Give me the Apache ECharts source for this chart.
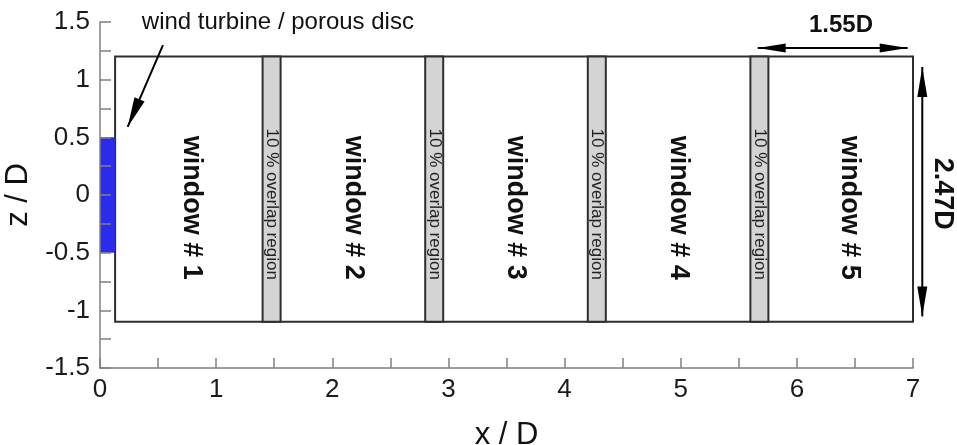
<!DOCTYPE html>
<html><head><meta charset="utf-8">
<script src="https://cdn.jsdelivr.net/npm/echarts@6/dist/echarts.min.js"></script>
<style>html,body{margin:0;padding:0;background:#fff}#c{width:957px;height:445px}</style>
</head><body><div id="c"></div>
<script>
// ---- data ----
const xRange = [0, 7];
const zRange = [-1.5, 1.5];
const domainBox = [0.13, 7.0, -1.1, 1.2];      // x0, x1, z0, z1
const discBox = [0, 0.13, -0.5, 0.5];          // wind turbine / porous disc
const overlapStart = [1.40, 2.80, 4.20, 5.60];
const overlapEnd = [1.555, 2.955, 4.355, 5.755];
const windowNames = ['window # 1', 'window # 2', 'window # 3', 'window # 4', 'window # 5'];
const overlapName = '10 % overlap region';
const widthLabel = '1.55D';
const heightLabel = '2.47D';
const discLabel = 'wind turbine / porous disc';

// ---- layout (label anchors, data coords) ----
const windowLabelX = [0.79, 2.18, 3.58, 4.98, 6.45];
const windowLabelZ = -0.11;
const overlapLabelZ = -0.08;

const FONT = '"Liberation Sans", Arial, Helvetica, sans-serif';
const chart = echarts.init(document.getElementById('c'), null, {renderer: 'canvas'});

function rectFromBox(api, b) {
  const p0 = api.coord([b[0], b[3]]);
  const p1 = api.coord([b[1], b[2]]);
  return {x: p0[0], y: p0[1], width: p1[0] - p0[0], height: p1[1] - p0[1]};
}

const items = [];
items.push({kind: 'domain', box: domainBox});
overlapStart.forEach((s, i) => items.push({kind: 'overlap', box: [s, overlapEnd[i], domainBox[2], domainBox[3]]}));
items.push({kind: 'disc', box: discBox});
windowNames.forEach((n, i) => items.push({kind: 'wlabel', text: n, x: windowLabelX[i], z: windowLabelZ}));
overlapStart.forEach((s, i) => items.push({kind: 'olabel', text: overlapName, x: (s + overlapEnd[i]) / 2, z: overlapLabelZ}));

chart.setOption({
  animation: false,
  backgroundColor: '#fff',
  grid: {left: 100, right: 44, top: 22, bottom: 77, containLabel: false, outerBoundsMode: 'none'},
  xAxis: {
    type: 'value', min: xRange[0], max: xRange[1], interval: 1, z: 10,
    name: 'x / D', nameLocation: 'middle', nameGap: 52,
    nameTextStyle: {fontFamily: FONT, fontSize: 31, color: '#111'},
    axisLine: {show: true, onZero: false, lineStyle: {color: '#808080', width: 1.5}},
    axisTick: {show: true, inside: true, length: 10, lineStyle: {color: '#808080', width: 1.5}},
    minorTick: {show: true, splitNumber: 2, length: 10, lineStyle: {color: '#808080', width: 1.5}},
    splitLine: {show: false},
    axisLabel: {fontFamily: FONT, fontSize: 26, color: '#1a1a1a', margin: 9}
  },
  yAxis: {
    type: 'value', min: zRange[0], max: zRange[1], interval: 0.5, z: 10,
    name: 'z / D', nameLocation: 'middle', nameGap: 66, nameRotate: 90,
    nameTextStyle: {fontFamily: FONT, fontSize: 31, color: '#111'},
    axisLine: {show: true, onZero: false, lineStyle: {color: '#808080', width: 1.5}},
    axisTick: {show: true, inside: true, length: 11, lineStyle: {color: '#808080', width: 1.5}},
    minorTick: {show: true, splitNumber: 2, length: 11, lineStyle: {color: '#808080', width: 1.5}},
    splitLine: {show: false},
    axisLabel: {fontFamily: FONT, fontSize: 26, color: '#1a1a1a', margin: 10}
  },
  series: [{
    type: 'custom',
    coordinateSystem: 'cartesian2d',
    data: items.map((it, i) => [i]),
    clip: false,
    renderItem: function (params, api) {
      const it = items[params.dataIndex];
      if (it.kind === 'domain') {
        return {type: 'rect', shape: rectFromBox(api, it.box), style: {fill: '#fff', stroke: '#2e2e2e', lineWidth: 2}};
      }
      if (it.kind === 'overlap') {
        return {type: 'rect', shape: rectFromBox(api, it.box), style: {fill: '#d4d4d4', stroke: '#2e2e2e', lineWidth: 2}};
      }
      if (it.kind === 'disc') {
        return {type: 'rect', shape: rectFromBox(api, it.box), style: {fill: '#2b2bee', stroke: null}};
      }
      const p = api.coord([it.x, it.z]);
      if (it.kind === 'wlabel') {
        return {type: 'text', x: p[0], y: p[1], rotation: -Math.PI / 2,
          style: {text: it.text, fontFamily: FONT, fontSize: 27, fontWeight: 'bold', fill: '#111', align: 'center', verticalAlign: 'middle'}};
      }
      return {type: 'text', x: p[0], y: p[1], rotation: -Math.PI / 2,
        style: {text: it.text, fontFamily: FONT, fontSize: 17, fill: '#222', align: 'center', verticalAlign: 'middle'}};
    }
  }]
});

// ---- annotations (placed in data coords) ----
function px(x, z) { return chart.convertToPixel({gridIndex: 0}, [x, z]); }
function arrowHead(tip, from, len, half) {
  const dx = tip[0] - from[0], dy = tip[1] - from[1];
  const L = Math.hypot(dx, dy), ux = dx / L, uy = dy / L;
  const bx = tip[0] - ux * len, by = tip[1] - uy * len;
  return {type: 'polygon', shape: {points: [tip, [bx - uy * half, by + ux * half], [bx + uy * half, by - ux * half]]}, style: {fill: '#000'}, z: 20};
}
function line(a, b) {
  return {type: 'line', shape: {x1: a[0], y1: a[1], x2: b[0], y2: b[1]}, style: {stroke: '#000', lineWidth: 2}, z: 20};
}
const pStart = px(0.542, 1.30), pTip = px(0.238, 0.59);
const hA = px(5.663, 1.274), hB = px(6.954, 1.274);
const vA = px(7.08, 1.11), vB = px(7.08, -1.053);
const g = [];
g.push(line(pStart, pTip), arrowHead(pTip, pStart, 30, 5.5));
g.push(line(hA, hB), arrowHead(hA, hB, 28, 4.5), arrowHead(hB, hA, 28, 4.5));
g.push(line(vA, vB), arrowHead(vA, vB, 30, 5), arrowHead(vB, vA, 30, 5));
const tDisc = px(0.36, 1.497);
g.push({type: 'text', x: tDisc[0], y: tDisc[1], z: 20, style: {text: discLabel, fontFamily: FONT, fontSize: 24, fill: '#111', align: 'left', verticalAlign: 'middle'}});
const tW = px(6.38, 1.47);
g.push({type: 'text', x: tW[0], y: tW[1], z: 20, style: {text: widthLabel, fontFamily: FONT, fontSize: 24, fontWeight: 'bold', fill: '#111', align: 'center', verticalAlign: 'middle'}});
const tH = px(7.255, 0.01);
g.push({type: 'text', x: tH[0], y: tH[1], z: 20, rotation: -Math.PI / 2, style: {text: heightLabel, fontFamily: FONT, fontSize: 27, fontWeight: 'bold', fill: '#111', align: 'center', verticalAlign: 'middle'}});
chart.setOption({graphic: {elements: g}});
</script>
</body></html>
